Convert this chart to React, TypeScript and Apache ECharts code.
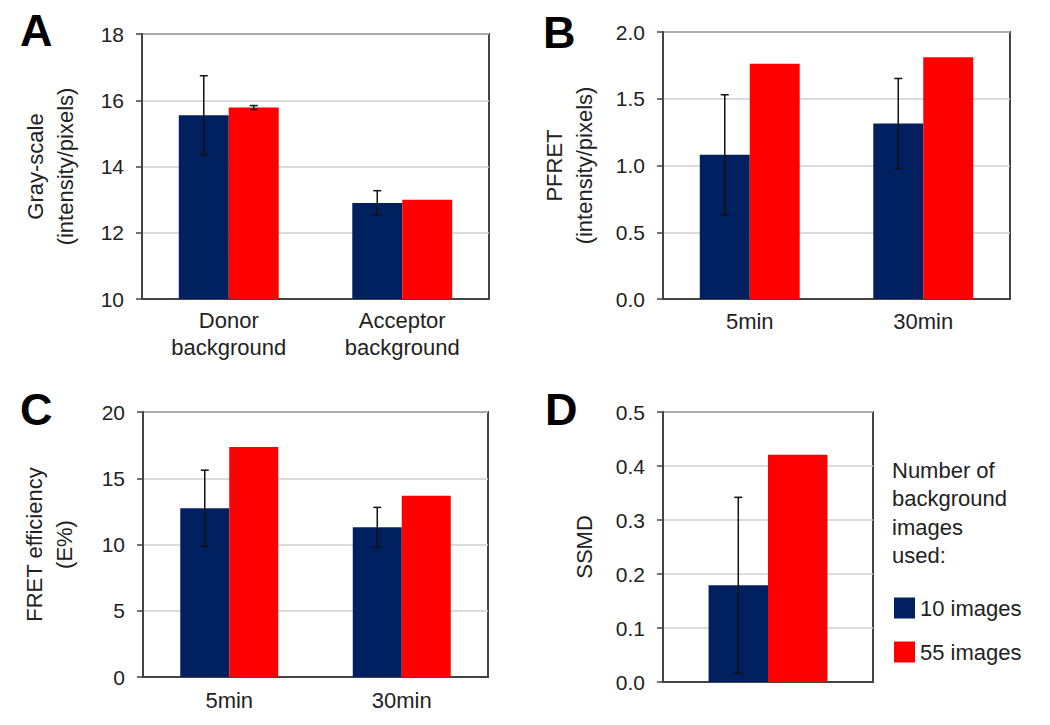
import React, { useEffect, useRef } from "react";
import * as echarts from "echarts";

const seriesNames = ["10 images", "55 images"];

const panelACategories = ["Donor\nbackground", "Acceptor\nbackground"];
const panelA10 = [15.55, 12.9];
const panelA10Err = [1.19, 0.37];
const panelA55 = [15.78, 13.0];
const panelA55Err = [0.06, 0];

const panelBCategories = ["5min", "30min"];
const panelB10 = [1.08, 1.315];
const panelB10Err = [0.45, 0.337];
const panelB55 = [1.763, 1.81];
const panelB55Err = [0, 0];

const panelCCategories = ["5min", "30min"];
const panelC10 = [12.74, 11.3];
const panelC10Err = [2.87, 1.5];
const panelC55 = [17.35, 13.67];
const panelC55Err = [0, 0];

const panelDCategories = [""];
const panelD10 = [0.179];
const panelD10Err = [0.163];
const panelD55 = [0.421];
const panelD55Err = [0];

const NAVY = "#00205f";
const RED = "#ff0000";
const FONT = "Liberation Sans, Arial, sans-serif";
const TEXT = "#222222";
const BORDER = "#444444";

export default function App() {
  const ref = useRef<HTMLDivElement>(null);

  useEffect(() => {
    if (!ref.current) return;
    const chart = echarts.init(ref.current, undefined, { renderer: "svg" });

    const grids = [
      { left: 142, top: 34, width: 347, height: 265 },
      { left: 663, top: 32, width: 347, height: 267 },
      { left: 143, top: 412, width: 345, height: 265 },
      { left: 663, top: 412, width: 210, height: 270 },
    ];
    const barFracs = [0.288, 0.288, 0.284, 0.283];
    const cats = [panelACategories, panelBCategories, panelCCategories, panelDCategories];
    const yCfg = [
      { min: 10, max: 18, interval: 2, name: "Gray-scale\n(intensity/pixels)", dec: 0, gap: 62 },
      { min: 0, max: 2, interval: 0.5, name: "PFRET\n(intensity/pixels)", dec: 1, gap: 64 },
      { min: 0, max: 20, interval: 5, name: "FRET efficiency\n(E%)", dec: 0, gap: 64 },
      { min: 0, max: 0.5, interval: 0.1, name: "SSMD", dec: 1, gap: 64 },
    ];
    const labelMargins = [8, 9, 10, 10];
    const vals10 = [panelA10, panelB10, panelC10, panelD10];
    const vals55 = [panelA55, panelB55, panelC55, panelD55];
    const errs10 = [panelA10Err, panelB10Err, panelC10Err, panelD10Err];
    const errs55 = [panelA55Err, panelB55Err, panelC55Err, panelD55Err];

    const xAxis = cats.map((c, i) => ({
      type: "category",
      gridIndex: i,
      data: c,
      axisTick: { show: false },
      axisLine: { show: true, onZero: false, lineStyle: { color: BORDER, width: 2 } },
      axisLabel: {
        color: TEXT,
        fontFamily: FONT,
        fontSize: 22,
        lineHeight: 27,
        margin: labelMargins[i],
        interval: 0,
      },
    }));

    const yAxis = yCfg.map((y, i) => ({
      type: "value",
      gridIndex: i,
      min: y.min,
      max: y.max,
      interval: y.interval,
      name: y.name,
      nameLocation: "middle",
      nameRotate: 90,
      nameGap: y.gap,
      nameTextStyle: { color: TEXT, fontFamily: FONT, fontSize: 22, lineHeight: 30 },
      axisLine: { show: true, lineStyle: { color: BORDER, width: 2 } },
      axisTick: { show: true, length: 6, lineStyle: { color: BORDER, width: 1.5 } },
      splitLine: { show: true, lineStyle: { color: "#cfcfcf", width: 1.5 } },
      axisLabel: {
        color: TEXT,
        fontFamily: FONT,
        fontSize: 21,
        margin: 18,
        formatter: (v: number) => v.toFixed(y.dec),
      },
    }));

    const series: any[] = [];
    for (let i = 0; i < 4; i++) {
      const bw = (barFracs[i] * 100).toFixed(1) + "%";
      series.push({
        name: seriesNames[0],
        type: "bar",
        xAxisIndex: i,
        yAxisIndex: i,
        data: vals10[i],
        barWidth: bw,
        barGap: "0%",
        itemStyle: { color: NAVY },
      });
      series.push({
        name: seriesNames[1],
        type: "bar",
        xAxisIndex: i,
        yAxisIndex: i,
        data: vals55[i],
        barWidth: bw,
        barGap: "0%",
        itemStyle: { color: RED },
      });
      const errData: number[][] = [];
      vals10[i].forEach((v, k) => {
        if (errs10[i][k] > 0) errData.push([k, v, errs10[i][k], -1]);
      });
      vals55[i].forEach((v, k) => {
        if (errs55[i][k] > 0) errData.push([k, v, errs55[i][k], 1]);
      });
      const frac = barFracs[i];
      series.push({
        name: "error",
        type: "custom",
        xAxisIndex: i,
        yAxisIndex: i,
        z: 10,
        data: errData,
        encode: { x: 0, y: 1 },
        renderItem: (params: any, api: any) => {
          const x = api.value(0);
          const m = api.value(1);
          const e = api.value(2);
          const side = api.value(3);
          const band = api.size([1, 0])[0];
          const off = (side * band * frac) / 2;
          const top = api.coord([x, m + e]);
          const bot = api.coord([x, m - e]);
          const cx = top[0] + off;
          const cap = 4;
          const st = { stroke: "#111", lineWidth: 1.5 };
          return {
            type: "group",
            children: [
              { type: "line", shape: { x1: cx, y1: top[1], x2: cx, y2: bot[1] }, style: st },
              { type: "line", shape: { x1: cx - cap, y1: top[1], x2: cx + cap, y2: top[1] }, style: st },
              { type: "line", shape: { x1: cx - cap, y1: bot[1], x2: cx + cap, y2: bot[1] }, style: st },
            ],
          };
        },
      });
    }

    const letter = (t: string, x: number, y: number) => ({
      type: "text",
      x,
      y,
      style: {
        text: t,
        fontFamily: FONT,
        fontSize: 45,
        fontWeight: "bold",
        fill: "#000",
        verticalAlign: "middle",
        align: "left",
      },
    });

    chart.setOption({
      animation: false,
      backgroundColor: "#ffffff",
      grid: grids.map((g) => ({
        ...g,
        show: true,
        borderColor: BORDER,
        borderWidth: 2,
        backgroundColor: "transparent",
      })),
      xAxis,
      yAxis,
      series,
      legend: {
        data: seriesNames,
        orient: "vertical",
        left: 889,
        top: 592,
        itemWidth: 21,
        itemHeight: 21,
        itemGap: 22,
        icon: "rect",
        textStyle: { color: TEXT, fontFamily: FONT, fontSize: 22 },
        selectedMode: false,
      },
      graphic: [
        letter("A", 20, 30),
        letter("B", 543, 32),
        letter("C", 20, 409),
        letter("D", 545, 409),
        {
          type: "text",
          x: 892,
          y: 456,
          style: {
            text: "Number of\nbackground\nimages\nused:",
            fontFamily: FONT,
            fontSize: 22,
            lineHeight: 28.5,
            fill: TEXT,
            verticalAlign: "top",
            align: "left",
          },
        },
      ],
    });

    return () => chart.dispose();
  }, []);

  return (
    <div
      ref={ref}
      style={{ position: "absolute", left: 0, top: 0, width: 1050, height: 725, background: "#fff" }}
    />
  );
}
